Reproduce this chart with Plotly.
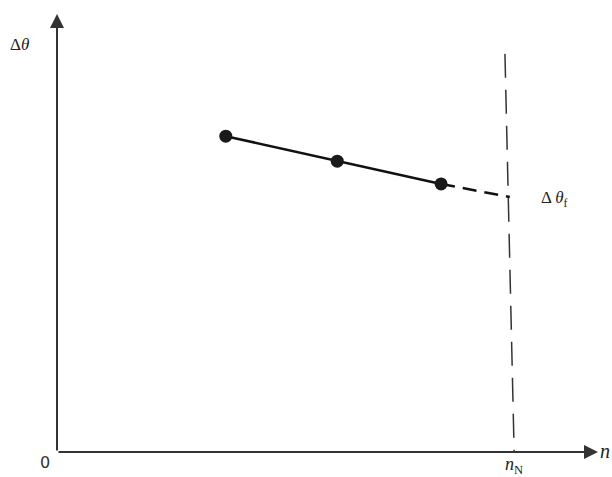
import plotly.graph_objects as go

# Measured temperature rise at three loads, extrapolated to rated speed n_N
n_meas = [3.12, 5.18, 7.10]
dtheta_meas = [7.21, 6.64, 6.12]

# Extrapolated end point (final temperature rise at n_N)
n_extrap = [7.10, 8.37]
dtheta_extrap = [6.12, 5.82]

# Rated-speed guide line (slightly tilted, as drawn)
n_N_line = [8.28, 8.45]
dtheta_N_line = [9.09, 0.0]

X_MAX, Y_MAX = 10.0, 10.0

fig = go.Figure()

fig.add_trace(go.Scatter(
    x=n_N_line, y=dtheta_N_line, mode="lines",
    line=dict(color="#333333", width=1.5, dash="24px,12px"),
    hoverinfo="skip", showlegend=False, cliponaxis=False,
))

fig.add_trace(go.Scatter(
    x=n_extrap, y=dtheta_extrap, mode="lines",
    line=dict(color="#111111", width=2.5, dash="14px,8px"),
    hoverinfo="skip", showlegend=False,
))

fig.add_trace(go.Scatter(
    x=n_meas, y=dtheta_meas, mode="lines+markers",
    line=dict(color="#111111", width=2.5),
    marker=dict(color="#1a1a1a", size=13),
    showlegend=False,
))

# Axes drawn as arrows from the origin
axis_col = "#333333"
fig.add_annotation(x=X_MAX, y=0, ax=0, ay=0, xref="x", yref="y", axref="x", ayref="y",
                   showarrow=True, arrowhead=2, arrowsize=1.4, arrowwidth=2,
                   arrowcolor=axis_col, text="", standoff=0)
fig.add_annotation(x=0, y=Y_MAX, ax=0, ay=0, xref="x", yref="y", axref="x", ayref="y",
                   showarrow=True, arrowhead=2, arrowsize=1.4, arrowwidth=2,
                   arrowcolor=axis_col, text="", standoff=0)

# Text labels placed in paper coordinates (some sit outside the axis ranges)
serif = "Liberation Serif"
labels = [
    dict(x=-0.7, y=9.3, text="Δ<i>θ</i>", font=dict(family=serif, size=17, color="#222")),
    dict(x=9.2, y=5.78, text="Δ <i>θ</i><sub>f</sub>", font=dict(family=serif, size=17, color="#222")),
    dict(x=8.45, y=-0.3, text="<i>n</i><sub>N</sub>", font=dict(family=serif, size=18, color="#222")),
    dict(x=-0.22, y=-0.24, text="0", font=dict(family="DejaVu Sans", size=16, color="#333")),
    dict(x=10.13, y=0.03, text="<i>n</i>", font=dict(family=serif, size=20, color="#222")),
]
for lab in labels:
    fig.add_annotation(
        xref="paper", yref="paper", showarrow=False,
        xanchor="center", yanchor="middle",
        x=lab["x"] / X_MAX, y=lab["y"] / Y_MAX, text=lab["text"], font=lab["font"],
    )

fig.update_xaxes(range=[0, X_MAX], visible=False)
fig.update_yaxes(range=[0, Y_MAX], visible=False)
fig.update_layout(
    width=612, height=477,
    margin=dict(l=57, r=14, t=14, b=25),
    plot_bgcolor="white", paper_bgcolor="white",
)

fig.write_html("out.html")
